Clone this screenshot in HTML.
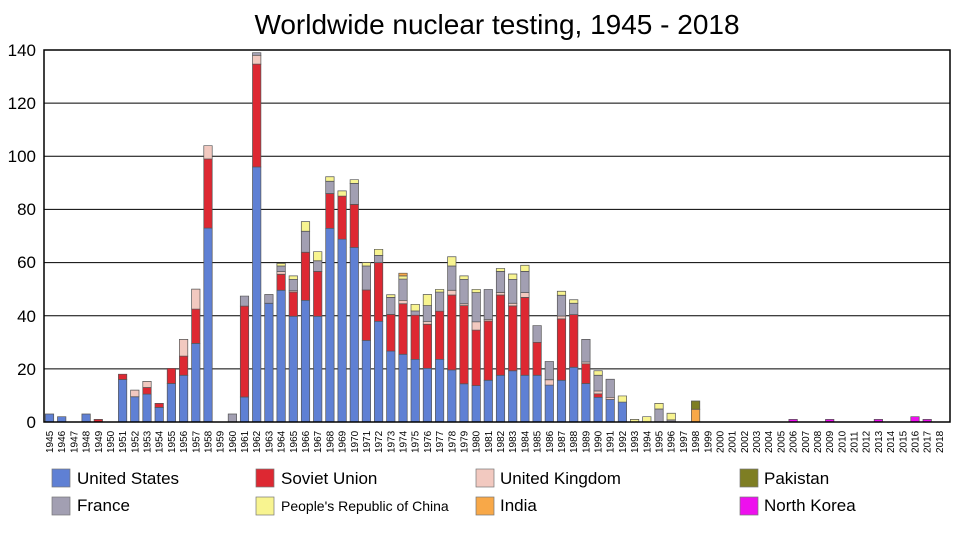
<!DOCTYPE html>
<html><head><meta charset="utf-8"><style>
body{margin:0;background:#fff}
svg{display:block;font-family:"Liberation Sans",sans-serif}
.b rect{stroke:#555;stroke-width:0.7;vector-effect:non-scaling-stroke}
.u{fill:#5f80d4}.s{fill:#dd2832}.k{fill:#f2c9c0}.f{fill:#a29fb2}.c{fill:#f8f490}.i{fill:#f8a848}.p{fill:#7e7e23}.n{fill:#ee10ee}
.yl{font-size:17px;text-anchor:end}
.xl{font-size:10px}
.lg{font-size:17px}
</style></head><body>
<svg width="960" height="540" viewBox="0 0 960 540">
<text x="497" y="34" font-size="28" text-anchor="middle">Worldwide nuclear testing, 1945 - 2018</text>
<g stroke="#000" stroke-width="1">
<line x1="44" x2="950" y1="103.1" y2="103.1"/><line x1="44" x2="950" y1="156.3" y2="156.3"/><line x1="44" x2="950" y1="209.4" y2="209.4"/><line x1="44" x2="950" y1="262.6" y2="262.6"/><line x1="44" x2="950" y1="315.7" y2="315.7"/><line x1="44" x2="950" y1="368.9" y2="368.9"/>
</g>
<g class="yl">
<text x="36" y="56">140</text><text x="36" y="109">120</text><text x="36" y="162">100</text><text x="36" y="215">80</text><text x="36" y="268">60</text><text x="36" y="322">40</text><text x="36" y="375">20</text><text x="36" y="428">0</text>
</g>
<g class="b" transform="translate(0,422) scale(1,-2.657)">
<rect class="u" x="45.3" y="0" width="8.4" height="3"/>
<rect class="u" x="57.5" y="0" width="8.4" height="2"/>
<rect class="u" x="81.9" y="0" width="8.4" height="3"/>
<rect class="s" x="94.1" y="0" width="8.4" height="1"/>
<rect class="u" x="118.4" y="0" width="8.4" height="16"/><rect class="s" x="118.4" y="16" width="8.4" height="2"/>
<rect class="u" x="130.6" y="0" width="8.4" height="9.5"/><rect class="k" x="130.6" y="9.5" width="8.4" height="2.5"/>
<rect class="u" x="142.8" y="0" width="8.4" height="10.5"/><rect class="s" x="142.8" y="10.5" width="8.4" height="2.5"/><rect class="k" x="142.8" y="13" width="8.4" height="2.3"/>
<rect class="u" x="155.0" y="0" width="8.4" height="5.5"/><rect class="s" x="155.0" y="5.5" width="8.4" height="1.5"/>
<rect class="u" x="167.2" y="0" width="8.4" height="14.5"/><rect class="s" x="167.2" y="14.5" width="8.4" height="5.7"/>
<rect class="u" x="179.4" y="0" width="8.4" height="17.6"/><rect class="s" x="179.4" y="17.6" width="8.4" height="7.2"/><rect class="k" x="179.4" y="24.8" width="8.4" height="6.3"/>
<rect class="u" x="191.6" y="0" width="8.4" height="29.6"/><rect class="s" x="191.6" y="29.6" width="8.4" height="12.9"/><rect class="k" x="191.6" y="42.5" width="8.4" height="7.5"/>
<rect class="u" x="203.8" y="0" width="8.4" height="73"/><rect class="s" x="203.8" y="73" width="8.4" height="26"/><rect class="k" x="203.8" y="99" width="8.4" height="5"/>
<rect class="f" x="228.2" y="0" width="8.4" height="3"/>
<rect class="u" x="240.3" y="0" width="8.4" height="9.4"/><rect class="s" x="240.3" y="9.4" width="8.4" height="34.2"/><rect class="f" x="240.3" y="43.6" width="8.4" height="3.8"/>
<rect class="u" x="252.5" y="0" width="8.4" height="96"/><rect class="s" x="252.5" y="96" width="8.4" height="38.7"/><rect class="k" x="252.5" y="134.7" width="8.4" height="3.3"/><rect class="f" x="252.5" y="138" width="8.4" height="1"/>
<rect class="u" x="264.7" y="0" width="8.4" height="44.7"/><rect class="f" x="264.7" y="44.7" width="8.4" height="3.3"/>
<rect class="u" x="276.9" y="0" width="8.4" height="49.6"/><rect class="s" x="276.9" y="49.6" width="8.4" height="6"/><rect class="k" x="276.9" y="55.6" width="8.4" height="1"/><rect class="f" x="276.9" y="56.6" width="8.4" height="2.1"/><rect class="c" x="276.9" y="58.7" width="8.4" height="1"/>
<rect class="u" x="289.1" y="0" width="8.4" height="39.8"/><rect class="s" x="289.1" y="39.8" width="8.4" height="9.1"/><rect class="k" x="289.1" y="48.9" width="8.4" height="0.5"/><rect class="f" x="289.1" y="49.4" width="8.4" height="4.3"/><rect class="c" x="289.1" y="53.7" width="8.4" height="1.3"/>
<rect class="u" x="301.3" y="0" width="8.4" height="45.8"/><rect class="s" x="301.3" y="45.8" width="8.4" height="18.1"/><rect class="f" x="301.3" y="63.9" width="8.4" height="7.9"/><rect class="c" x="301.3" y="71.8" width="8.4" height="3.6"/>
<rect class="u" x="313.5" y="0" width="8.4" height="39.8"/><rect class="s" x="313.5" y="39.8" width="8.4" height="16.9"/><rect class="f" x="313.5" y="56.7" width="8.4" height="4"/><rect class="c" x="313.5" y="60.7" width="8.4" height="3.4"/>
<rect class="u" x="325.7" y="0" width="8.4" height="72.9"/><rect class="s" x="325.7" y="72.9" width="8.4" height="13.1"/><rect class="f" x="325.7" y="86" width="8.4" height="4.6"/><rect class="c" x="325.7" y="90.6" width="8.4" height="1.7"/>
<rect class="u" x="337.9" y="0" width="8.4" height="68.8"/><rect class="s" x="337.9" y="68.8" width="8.4" height="16.2"/><rect class="c" x="337.9" y="85" width="8.4" height="2"/>
<rect class="u" x="350.1" y="0" width="8.4" height="65.7"/><rect class="s" x="350.1" y="65.7" width="8.4" height="16.2"/><rect class="f" x="350.1" y="81.9" width="8.4" height="7.9"/><rect class="c" x="350.1" y="89.8" width="8.4" height="1.4"/>
<rect class="u" x="362.2" y="0" width="8.4" height="30.7"/><rect class="s" x="362.2" y="30.7" width="8.4" height="19"/><rect class="f" x="362.2" y="49.7" width="8.4" height="9"/><rect class="c" x="362.2" y="58.7" width="8.4" height="1.3"/>
<rect class="u" x="374.4" y="0" width="8.4" height="37.9"/><rect class="s" x="374.4" y="37.9" width="8.4" height="22.1"/><rect class="f" x="374.4" y="60" width="8.4" height="2.7"/><rect class="c" x="374.4" y="62.7" width="8.4" height="2.3"/>
<rect class="u" x="386.6" y="0" width="8.4" height="26.7"/><rect class="s" x="386.6" y="26.7" width="8.4" height="13.8"/><rect class="f" x="386.6" y="40.5" width="8.4" height="6.4"/><rect class="c" x="386.6" y="46.9" width="8.4" height="1"/>
<rect class="u" x="398.8" y="0" width="8.4" height="25.5"/><rect class="s" x="398.8" y="25.5" width="8.4" height="19"/><rect class="k" x="398.8" y="44.5" width="8.4" height="1.3"/><rect class="f" x="398.8" y="45.8" width="8.4" height="8"/><rect class="c" x="398.8" y="53.8" width="8.4" height="1.2"/><rect class="i" x="398.8" y="55" width="8.4" height="1"/>
<rect class="u" x="411.0" y="0" width="8.4" height="23.6"/><rect class="s" x="411.0" y="23.6" width="8.4" height="16.6"/><rect class="f" x="411.0" y="40.2" width="8.4" height="1.6"/><rect class="c" x="411.0" y="41.8" width="8.4" height="2.5"/>
<rect class="u" x="423.2" y="0" width="8.4" height="20.2"/><rect class="s" x="423.2" y="20.2" width="8.4" height="16.6"/><rect class="k" x="423.2" y="36.8" width="8.4" height="1"/><rect class="f" x="423.2" y="37.8" width="8.4" height="6"/><rect class="c" x="423.2" y="43.8" width="8.4" height="4.2"/>
<rect class="u" x="435.4" y="0" width="8.4" height="23.6"/><rect class="s" x="435.4" y="23.6" width="8.4" height="18.1"/><rect class="f" x="435.4" y="41.7" width="8.4" height="7.2"/><rect class="c" x="435.4" y="48.9" width="8.4" height="1"/>
<rect class="u" x="447.6" y="0" width="8.4" height="19.6"/><rect class="s" x="447.6" y="19.6" width="8.4" height="28.2"/><rect class="k" x="447.6" y="47.8" width="8.4" height="1.8"/><rect class="f" x="447.6" y="49.6" width="8.4" height="9.1"/><rect class="c" x="447.6" y="58.7" width="8.4" height="3.5"/>
<rect class="u" x="459.8" y="0" width="8.4" height="14.4"/><rect class="s" x="459.8" y="14.4" width="8.4" height="29.4"/><rect class="k" x="459.8" y="43.8" width="8.4" height="0.7"/><rect class="f" x="459.8" y="44.5" width="8.4" height="9.2"/><rect class="c" x="459.8" y="53.7" width="8.4" height="1.3"/>
<rect class="u" x="472.0" y="0" width="8.4" height="13.7"/><rect class="s" x="472.0" y="13.7" width="8.4" height="20.9"/><rect class="k" x="472.0" y="34.6" width="8.4" height="3.1"/><rect class="f" x="472.0" y="37.7" width="8.4" height="11"/><rect class="c" x="472.0" y="48.7" width="8.4" height="1.2"/>
<rect class="u" x="484.1" y="0" width="8.4" height="15.7"/><rect class="s" x="484.1" y="15.7" width="8.4" height="22.3"/><rect class="k" x="484.1" y="38" width="8.4" height="0.6"/><rect class="f" x="484.1" y="38.6" width="8.4" height="11.3"/>
<rect class="u" x="496.3" y="0" width="8.4" height="17.6"/><rect class="s" x="496.3" y="17.6" width="8.4" height="30.2"/><rect class="k" x="496.3" y="47.8" width="8.4" height="1"/><rect class="f" x="496.3" y="48.8" width="8.4" height="7.9"/><rect class="c" x="496.3" y="56.7" width="8.4" height="1.1"/>
<rect class="u" x="508.5" y="0" width="8.4" height="19.3"/><rect class="s" x="508.5" y="19.3" width="8.4" height="24.4"/><rect class="k" x="508.5" y="43.7" width="8.4" height="1"/><rect class="f" x="508.5" y="44.7" width="8.4" height="9"/><rect class="c" x="508.5" y="53.7" width="8.4" height="2"/>
<rect class="u" x="520.7" y="0" width="8.4" height="17.6"/><rect class="s" x="520.7" y="17.6" width="8.4" height="29.3"/><rect class="k" x="520.7" y="46.9" width="8.4" height="1.8"/><rect class="f" x="520.7" y="48.7" width="8.4" height="8"/><rect class="c" x="520.7" y="56.7" width="8.4" height="2.3"/>
<rect class="u" x="532.9" y="0" width="8.4" height="17.6"/><rect class="s" x="532.9" y="17.6" width="8.4" height="12.4"/><rect class="f" x="532.9" y="30" width="8.4" height="6.3"/>
<rect class="u" x="545.1" y="0" width="8.4" height="13.9"/><rect class="k" x="545.1" y="13.9" width="8.4" height="2"/><rect class="f" x="545.1" y="15.9" width="8.4" height="6.9"/>
<rect class="u" x="557.3" y="0" width="8.4" height="15.7"/><rect class="s" x="557.3" y="15.7" width="8.4" height="23.1"/><rect class="k" x="557.3" y="38.8" width="8.4" height="1.1"/><rect class="f" x="557.3" y="39.9" width="8.4" height="7.8"/><rect class="c" x="557.3" y="47.7" width="8.4" height="1.5"/>
<rect class="u" x="569.5" y="0" width="8.4" height="20.6"/><rect class="s" x="569.5" y="20.6" width="8.4" height="19.8"/><rect class="f" x="569.5" y="40.4" width="8.4" height="4.3"/><rect class="c" x="569.5" y="44.7" width="8.4" height="1.3"/>
<rect class="u" x="581.7" y="0" width="8.4" height="14.5"/><rect class="s" x="581.7" y="14.5" width="8.4" height="7.4"/><rect class="k" x="581.7" y="21.9" width="8.4" height="0.7"/><rect class="f" x="581.7" y="22.6" width="8.4" height="8.5"/>
<rect class="u" x="593.9" y="0" width="8.4" height="9.3"/><rect class="s" x="593.9" y="9.3" width="8.4" height="1.3"/><rect class="k" x="593.9" y="10.6" width="8.4" height="1.1"/><rect class="f" x="593.9" y="11.7" width="8.4" height="5.9"/><rect class="c" x="593.9" y="17.6" width="8.4" height="1.7"/>
<rect class="u" x="606.0" y="0" width="8.4" height="8.5"/><rect class="k" x="606.0" y="8.5" width="8.4" height="0.8"/><rect class="f" x="606.0" y="9.3" width="8.4" height="6.8"/>
<rect class="u" x="618.2" y="0" width="8.4" height="7.5"/><rect class="c" x="618.2" y="7.5" width="8.4" height="2.3"/>
<rect class="c" x="630.4" y="0" width="8.4" height="1"/>
<rect class="c" x="642.6" y="0" width="8.4" height="2"/>
<rect class="f" x="654.8" y="0" width="8.4" height="4.9"/><rect class="c" x="654.8" y="4.9" width="8.4" height="2.1"/>
<rect class="f" x="667.0" y="0" width="8.4" height="0.8"/><rect class="c" x="667.0" y="0.8" width="8.4" height="2.5"/>
<rect class="i" x="691.4" y="0" width="8.4" height="4.8"/><rect class="p" x="691.4" y="4.8" width="8.4" height="3.1"/>
<rect class="n" x="788.9" y="0" width="8.4" height="1"/>
<rect class="n" x="825.5" y="0" width="8.4" height="1"/>
<rect class="n" x="874.2" y="0" width="8.4" height="1"/>
<rect class="n" x="910.8" y="0" width="8.4" height="2"/>
<rect class="n" x="923.0" y="0" width="8.4" height="1"/>
</g>
<rect x="44" y="50" width="906" height="372" fill="none" stroke="#000" stroke-width="1.5"/>
<g class="xl">
<text transform="translate(53,453) rotate(-90)">1945</text><text transform="translate(65.2,453) rotate(-90)">1946</text><text transform="translate(77.4,453) rotate(-90)">1947</text><text transform="translate(89.6,453) rotate(-90)">1948</text><text transform="translate(101.8,453) rotate(-90)">1949</text><text transform="translate(114,453) rotate(-90)">1950</text><text transform="translate(126.1,453) rotate(-90)">1951</text><text transform="translate(138.3,453) rotate(-90)">1952</text><text transform="translate(150.5,453) rotate(-90)">1953</text><text transform="translate(162.7,453) rotate(-90)">1954</text><text transform="translate(174.9,453) rotate(-90)">1955</text><text transform="translate(187.1,453) rotate(-90)">1956</text><text transform="translate(199.3,453) rotate(-90)">1957</text><text transform="translate(211.5,453) rotate(-90)">1958</text><text transform="translate(223.7,453) rotate(-90)">1959</text><text transform="translate(235.9,453) rotate(-90)">1960</text><text transform="translate(248,453) rotate(-90)">1961</text><text transform="translate(260.2,453) rotate(-90)">1962</text><text transform="translate(272.4,453) rotate(-90)">1963</text><text transform="translate(284.6,453) rotate(-90)">1964</text><text transform="translate(296.8,453) rotate(-90)">1965</text><text transform="translate(309,453) rotate(-90)">1966</text><text transform="translate(321.2,453) rotate(-90)">1967</text><text transform="translate(333.4,453) rotate(-90)">1968</text><text transform="translate(345.6,453) rotate(-90)">1969</text><text transform="translate(357.8,453) rotate(-90)">1970</text><text transform="translate(369.9,453) rotate(-90)">1971</text><text transform="translate(382.1,453) rotate(-90)">1972</text><text transform="translate(394.3,453) rotate(-90)">1973</text><text transform="translate(406.5,453) rotate(-90)">1974</text><text transform="translate(418.7,453) rotate(-90)">1975</text><text transform="translate(430.9,453) rotate(-90)">1976</text><text transform="translate(443.1,453) rotate(-90)">1977</text><text transform="translate(455.3,453) rotate(-90)">1978</text><text transform="translate(467.5,453) rotate(-90)">1979</text><text transform="translate(479.7,453) rotate(-90)">1980</text><text transform="translate(491.8,453) rotate(-90)">1981</text><text transform="translate(504,453) rotate(-90)">1982</text><text transform="translate(516.2,453) rotate(-90)">1983</text><text transform="translate(528.4,453) rotate(-90)">1984</text><text transform="translate(540.6,453) rotate(-90)">1985</text><text transform="translate(552.8,453) rotate(-90)">1986</text><text transform="translate(565,453) rotate(-90)">1987</text><text transform="translate(577.2,453) rotate(-90)">1988</text><text transform="translate(589.4,453) rotate(-90)">1989</text><text transform="translate(601.6,453) rotate(-90)">1990</text><text transform="translate(613.7,453) rotate(-90)">1991</text><text transform="translate(625.9,453) rotate(-90)">1992</text><text transform="translate(638.1,453) rotate(-90)">1993</text><text transform="translate(650.3,453) rotate(-90)">1994</text><text transform="translate(662.5,453) rotate(-90)">1995</text><text transform="translate(674.7,453) rotate(-90)">1996</text><text transform="translate(686.9,453) rotate(-90)">1997</text><text transform="translate(699.1,453) rotate(-90)">1998</text><text transform="translate(711.3,453) rotate(-90)">1999</text><text transform="translate(723.5,453) rotate(-90)">2000</text><text transform="translate(735.6,453) rotate(-90)">2001</text><text transform="translate(747.8,453) rotate(-90)">2002</text><text transform="translate(760,453) rotate(-90)">2003</text><text transform="translate(772.2,453) rotate(-90)">2004</text><text transform="translate(784.4,453) rotate(-90)">2005</text><text transform="translate(796.6,453) rotate(-90)">2006</text><text transform="translate(808.8,453) rotate(-90)">2007</text><text transform="translate(821,453) rotate(-90)">2008</text><text transform="translate(833.2,453) rotate(-90)">2009</text><text transform="translate(845.4,453) rotate(-90)">2010</text><text transform="translate(857.5,453) rotate(-90)">2011</text><text transform="translate(869.7,453) rotate(-90)">2012</text><text transform="translate(881.9,453) rotate(-90)">2013</text><text transform="translate(894.1,453) rotate(-90)">2014</text><text transform="translate(906.3,453) rotate(-90)">2015</text><text transform="translate(918.5,453) rotate(-90)">2016</text><text transform="translate(930.7,453) rotate(-90)">2017</text><text transform="translate(942.9,453) rotate(-90)">2018</text>
</g>
<g stroke="#777" stroke-width="0.7">
<rect class="u" x="52" y="469" width="18" height="18"/>
<rect class="f" x="52" y="497" width="18" height="18"/>
<rect class="s" x="256" y="469" width="18" height="18"/>
<rect class="c" x="256" y="497" width="18" height="18"/>
<rect class="k" x="476" y="469" width="18" height="18"/>
<rect class="i" x="476" y="497" width="18" height="18"/>
<rect class="p" x="740" y="469" width="18" height="18"/>
<rect class="n" x="740" y="497" width="18" height="18"/>
</g>
<g class="lg">
<text x="77" y="484">United States</text>
<text x="77" y="511">France</text>
<text x="281" y="484">Soviet Union</text>
<text x="281" y="511" font-size="14">People's Republic of China</text>
<text x="500" y="484">United Kingdom</text>
<text x="500" y="511">India</text>
<text x="764" y="484">Pakistan</text>
<text x="764" y="511">North Korea</text>
</g>
</svg>
</body></html>
